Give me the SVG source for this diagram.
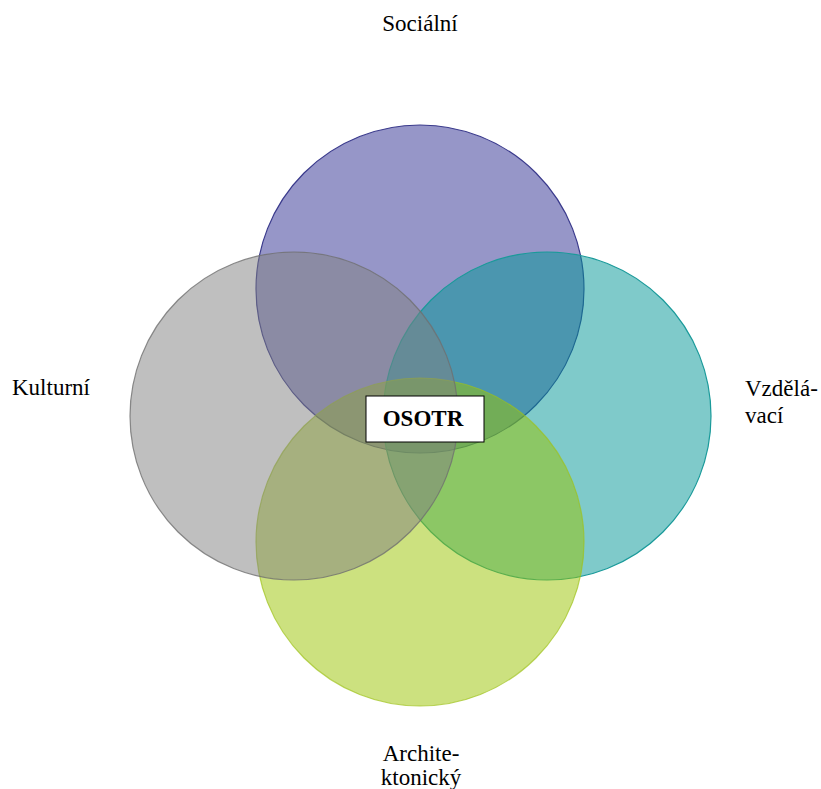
<svg xmlns="http://www.w3.org/2000/svg" width="821" height="789" viewBox="0 0 821 789">
<style>
.lbl{font-family:"Liberation Serif","Times New Roman",serif;font-size:23px;fill:#000}
.c{stroke-width:1.2}
</style>
<rect width="821" height="789" fill="#fff"/>
<g id="socialni">
<circle class="c" cx="420" cy="289" r="164" fill="#2d2d91" fill-opacity="0.5" stroke="#3a3a8c"/>
</g>
<g id="vzdelavaci">
<circle class="c" cx="547" cy="416" r="164" fill="#009595" fill-opacity="0.5" stroke="#1a9a9a"/>
</g>
<g id="architektonicky">
<circle class="c" cx="420" cy="542" r="164" fill="#99c300" fill-opacity="0.5" stroke="#9ec21a" stroke-opacity="0.7"/>
</g>
<g id="kulturni">
<circle class="c" cx="294" cy="416" r="164" fill="#7f7f7f" fill-opacity="0.5" stroke="#6f6f6f" stroke-opacity="0.8"/>
</g>
<g id="connectors"></g>
<g id="osotr">
<rect x="366" y="396" width="118" height="46" fill="#fff" stroke="#000" stroke-width="1"/>
<text class="lbl" x="423" y="426" text-anchor="middle" font-weight="bold">OSOTR</text>
</g>
<g id="labels">
<text class="lbl" x="420" y="31" text-anchor="middle">Sociální</text>
<text class="lbl" x="12" y="395">Kulturní</text>
<text class="lbl" x="745" y="396">Vzdělá-</text>
<text class="lbl" x="745" y="423">vací</text>
<text class="lbl" x="421" y="761" text-anchor="middle">Archite-</text>
<text class="lbl" x="421" y="785" text-anchor="middle">ktonický</text>
</g>
</svg>
